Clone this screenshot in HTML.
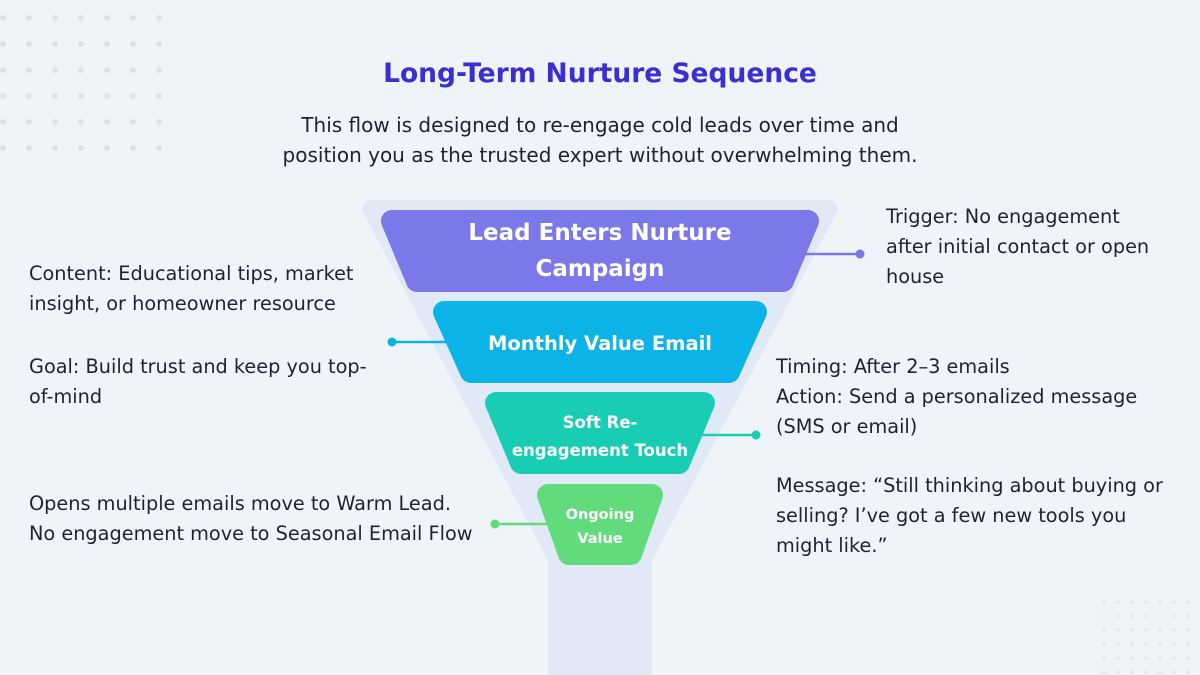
<!DOCTYPE html>
<html><head><meta charset="utf-8"><style>
body{margin:0;width:1200px;height:675px;overflow:hidden;background:#eef4f7;font-family:"DejaVu Sans",sans-serif;}
.t{position:absolute;color:#1f2230;font-size:19.3px;line-height:30px;white-space:nowrap;}
</style></head><body>
<svg width="1200" height="675" style="position:absolute;left:0;top:0">
<defs>
<pattern id="d1" x="-10" y="5" width="26" height="26" patternUnits="userSpaceOnUse"><circle cx="13" cy="13" r="3" fill="#dde2e7"/></pattern>
<pattern id="d2" x="1097" y="595" width="14" height="14" patternUnits="userSpaceOnUse"><circle cx="7" cy="7" r="1.5" fill="#dde3e8"/></pattern>
</defs>
<rect x="0" y="5" width="172" height="156" fill="url(#d1)"/>
<rect x="1097" y="595" width="103" height="80" fill="url(#d2)"/>
<path d="M376 200 L824 200 Q842 200 836 214 L652 560 L652 675 L548 675 L548 560 L364 214 Q358 200 376 200Z" fill="#e2e9f6"/>
<g stroke-width="2.5">
<line x1="800" y1="254" x2="860" y2="254" stroke="#7b78ea"/>
<line x1="392" y1="342" x2="448" y2="342" stroke="#0bb3e6"/>
<line x1="696" y1="435" x2="756" y2="435" stroke="#19cdb5"/>
<line x1="495" y1="524" x2="550" y2="524" stroke="#62db7c"/>
</g>
<circle cx="860" cy="254" r="4.5" fill="#7b78ea"/>
<circle cx="392" cy="342" r="4.5" fill="#0bb3e6"/>
<circle cx="756" cy="435" r="4.5" fill="#19cdb5"/>
<circle cx="495" cy="524" r="4.5" fill="#62db7c"/>
<g stroke-linejoin="round">
<path d="M392 221 L808 221 L783 281 L417 281 Z" fill="#7b78ea" stroke="#7b78ea" stroke-width="22"/>
<path d="M444 312 L756 312 L729 372 L471 372 Z" fill="#0bb3e6" stroke="#0bb3e6" stroke-width="22"/>
<path d="M496 403 L704 403 L679 463 L521 463 Z" fill="#19cdb5" stroke="#19cdb5" stroke-width="22"/>
<path d="M548 495 L652 495 L631 554 L569 554 Z" fill="#62db7c" stroke="#62db7c" stroke-width="22"/>
</g>
<g fill="#fff" font-family="DejaVu Sans,sans-serif" font-weight="bold" text-anchor="middle">
<text x="600" y="240" font-size="23">Lead Enters Nurture</text>
<text x="600" y="276" font-size="23">Campaign</text>
<text x="600" y="350" font-size="19.5">Monthly Value Email</text>
<text x="600" y="428" font-size="16.5">Soft Re-</text>
<text x="600" y="456" font-size="16.5">engagement Touch</text>
<text x="600" y="519" font-size="14.5">Ongoing</text>
<text x="600" y="543" font-size="14.5">Value</text>
</g>
</svg>
<div class="t" style="left:0;width:1200px;text-align:center;top:59px;font-size:26.5px;font-weight:bold;color:#3a2fd3">Long-Term Nurture Sequence</div>
<div class="t" style="left:0;width:1200px;text-align:center;top:110px;font-size:20px">This flow is designed to re-engage cold leads over time and<br>position you as the trusted expert without overwhelming them.</div>
<div class="t" style="left:886px;top:202px">Trigger: No engagement<br>after initial contact or open<br>house</div>
<div class="t" style="left:29px;top:259px">Content: Educational tips, market<br>insight, or homeowner resource</div>
<div class="t" style="left:29px;top:352px">Goal: Build trust and keep you top-<br>of-mind</div>
<div class="t" style="left:776px;top:352px">Timing: After 2–3 emails<br>Action: Send a personalized message<br>(SMS or email)</div>
<div class="t" style="left:776px;top:471px">Message: “Still thinking about buying or<br>selling? I’ve got a few new tools you<br>might like.”</div>
<div class="t" style="left:29px;top:489px">Opens multiple emails move to Warm Lead.<br>No engagement move to Seasonal Email Flow</div>
</body></html>
